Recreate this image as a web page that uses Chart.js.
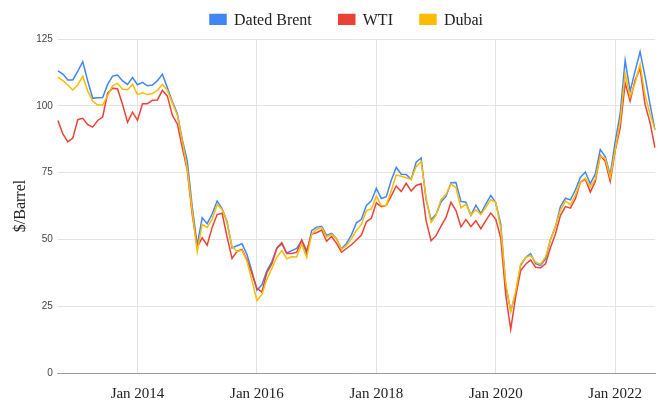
<!DOCTYPE html>
<html><head><meta charset="utf-8">
<script src="https://cdn.jsdelivr.net/npm/chart.js@4/dist/chart.umd.min.js"></script>
<style>html,body{margin:0;padding:0;background:#fff}canvas{display:block}</style>
</head><body>
<canvas id="c" width="658" height="404"></canvas>
<script>
const startYear = 2012;
const startMonth = 8; // September 2012
const monthNames = ['Jan','Feb','Mar','Apr','May','Jun','Jul','Aug','Sep','Oct','Nov','Dec'];

const brent = [
  113.1, 111.9, 109.7, 109.7,
  113.0, 116.5, 109.3, 102.8, 103.0, 103.1, 108.0, 111.1, 111.5, 109.3, 108.0, 110.6,
  107.9, 108.8, 107.5, 107.8, 109.4, 111.8, 106.8, 101.6, 97.1, 87.4, 79.4, 62.3,
  47.8, 58.1, 55.9, 59.5, 64.3, 61.5, 56.6, 46.8, 47.6, 48.4, 44.3, 38.0,
  31.0, 33.0, 38.2, 41.6, 46.7, 48.3, 44.9, 45.8, 46.6, 49.5, 44.7, 53.3,
  54.6, 54.9, 51.6, 52.3, 50.3, 46.4, 48.5, 51.7, 56.2, 57.5, 62.7, 64.4,
  69.1, 65.3, 66.0, 72.1, 77.0, 74.4, 74.3, 72.5, 78.9, 80.5, 64.8, 57.4,
  59.4, 64.0, 66.1, 71.2, 71.3, 64.2, 63.9, 59.0, 62.8, 59.7, 63.2, 66.5,
  63.7, 55.7, 32.5, 23.3, 29.6, 40.3, 43.2, 44.7, 40.9, 40.2, 42.7, 50.0,
  54.8, 62.3, 65.4, 64.8, 68.5, 73.2, 75.2, 70.8, 74.5, 83.6, 81.0, 74.2,
  86.5, 97.1, 117.0, 105.5, 113.0, 120.3, 111.0, 100.5, 90.9
];
const wti = [
  94.5, 89.5, 86.5, 87.9,
  94.8, 95.3, 92.9, 92.0, 94.5, 95.8, 104.7, 106.6, 106.3, 100.5, 93.9, 97.6,
  94.6, 100.8, 100.8, 102.1, 102.2, 105.8, 103.6, 96.5, 93.2, 84.4, 75.8, 59.3,
  47.2, 50.6, 47.8, 54.5, 59.3, 59.8, 50.9, 42.9, 45.5, 46.2, 42.4, 37.2,
  31.7, 30.3, 37.6, 40.8, 46.7, 48.8, 44.7, 44.7, 45.2, 49.8, 45.7, 52.0,
  52.5, 53.5, 49.3, 51.1, 48.5, 45.2, 46.6, 48.0, 49.8, 51.6, 56.6, 57.9,
  63.7, 62.2, 62.7, 66.3, 70.0, 67.9, 71.0, 68.1, 70.2, 70.8, 57.0, 49.5,
  51.4, 55.0, 58.2, 63.9, 60.8, 54.7, 57.4, 54.8, 57.0, 54.0, 57.0, 59.9,
  57.5, 50.5, 29.2, 16.3, 28.6, 38.3, 40.7, 42.3, 39.6, 39.4, 40.9, 47.0,
  52.0, 59.0, 62.3, 61.7, 65.2, 71.4, 72.5, 67.7, 71.7, 81.5, 79.2, 71.7,
  83.2, 91.6, 108.5, 101.8, 109.6, 114.0, 100.5, 93.7, 84.3
];
const dubai = [
  110.7, 109.4, 107.8, 105.9,
  107.8, 111.1, 105.5, 101.8, 100.3, 100.3, 103.8, 107.5, 108.4, 106.2, 106.0, 108.0,
  104.2, 104.9, 104.2, 104.6, 105.8, 108.0, 105.9, 101.0, 96.6, 86.9, 76.4, 60.5,
  45.4, 55.6, 54.5, 57.6, 63.0, 61.3, 56.2, 47.4, 45.4, 46.0, 41.8, 34.6,
  27.1, 29.3, 35.1, 39.1, 43.3, 45.8, 42.7, 43.5, 43.4, 48.2, 43.2, 52.0,
  53.7, 54.5, 50.9, 51.9, 50.2, 46.3, 47.6, 50.2, 53.4, 55.6, 60.8, 61.4,
  66.2, 62.6, 62.8, 68.3, 74.1, 73.6, 73.1, 72.5, 77.2, 79.1, 65.6, 56.4,
  59.1, 65.0, 66.9, 70.7, 69.4, 61.8, 63.2, 59.1, 61.1, 59.3, 62.0, 64.9,
  63.8, 54.2, 33.7, 23.0, 30.5, 40.8, 43.2, 44.0, 41.5, 40.7, 43.4, 49.9,
  54.8, 60.9, 64.4, 62.9, 66.6, 71.5, 72.9, 69.5, 72.6, 81.2, 80.3, 73.2,
  83.5, 94.2, 112.0, 103.4, 108.5, 115.6, 104.0, 97.0, 91.0
];
const seriesNames = ['Dated Brent', 'WTI', 'Dubai'];
const tickLabels = ['Jan 2014', 'Jan 2016', 'Jan 2018', 'Jan 2020', 'Jan 2022'];
const yTicks = [0, 25, 50, 75, 100, 125];
const yTitle = '$/Barrel';

const categories = brent.map((_, i) => {
  const m = startMonth + i;
  return monthNames[m % 12] + ' ' + (startYear + Math.floor(m / 12));
});

const serif = "'Liberation Serif', 'Times New Roman', serif";
const sans = "'Liberation Sans', Arial, sans-serif";
const colors = ['#4285F4', '#EA4335', '#FBBC04'];

const legendPlace = {
  id: 'legendPlace',
  afterLayout(chart) {
    const lg = chart.legend;
    if (!lg) return;
    const w = lg.width, h = lg.height;
    lg.left = 183; lg.right = lg.left + w;
    lg.top = -14; lg.bottom = lg.top + h;
  }
};

function ds(i, data, order) {
  return {
    label: seriesNames[i], data: data,
    borderColor: colors[i], backgroundColor: colors[i],
    borderWidth: 1.5, pointRadius: 0, pointHoverRadius: 0,
    tension: 0, fill: false, order: order
  };
}

new Chart(document.getElementById('c'), {
  type: 'line',
  data: {
    labels: categories,
    datasets: [ds(0, brent, 3), ds(1, wti, 2), ds(2, dubai, 1)]
  },
  plugins: [legendPlace],
  options: {
    responsive: false,
    animation: false,
    devicePixelRatio: 1,
    layout: { padding: { left: 9, right: 3, top: 0, bottom: 2 } },
    plugins: {
      tooltip: { enabled: false },
      legend: {
        display: true, position: 'top', align: 'start', maxHeight: 39,
        labels: {
          boxWidth: 16, boxHeight: 13, padding: 27, color: '#222',
          font: { family: serif, size: 16 },
          sort: (a, b) => a.datasetIndex - b.datasetIndex
        }
      }
    },
    scales: {
      x: {
        type: 'category',
        offset: false,
        grid: {
          drawTicks: true, tickLength: 14, tickColor: 'rgba(0,0,0,0)',
          color: (ctx) => (tickLabels.includes(categories[ctx.index]) ? '#e3e3e3' : 'rgba(0,0,0,0)'),
          lineWidth: 1
        },
        border: { display: true, color: '#9a9a9a', width: 1 },
        ticks: {
          autoSkip: false, maxRotation: 0, minRotation: 0, padding: 0,
          color: '#222', font: { family: serif, size: 15, lineHeight: 1 },
          callback: function (val, idx) {
            const l = categories[idx];
            return tickLabels.includes(l) ? l : '';
          }
        }
      },
      y: {
        min: yTicks[0], max: yTicks[yTicks.length - 1],
        afterBuildTicks: (axis) => { axis.ticks = yTicks.map(v => ({ value: v })); },
        grid: { color: '#e3e3e3', drawTicks: true, tickLength: 5, tickColor: 'rgba(0,0,0,0)' },
        border: { display: false },
        ticks: { padding: 0, color: '#444', font: { family: sans, size: 10 } },
        title: {
          display: true, text: yTitle, color: '#222',
          font: { family: serif, size: 16 }, padding: { top: 2, bottom: 6 }
        }
      }
    }
  }
});
</script>
</body></html>
